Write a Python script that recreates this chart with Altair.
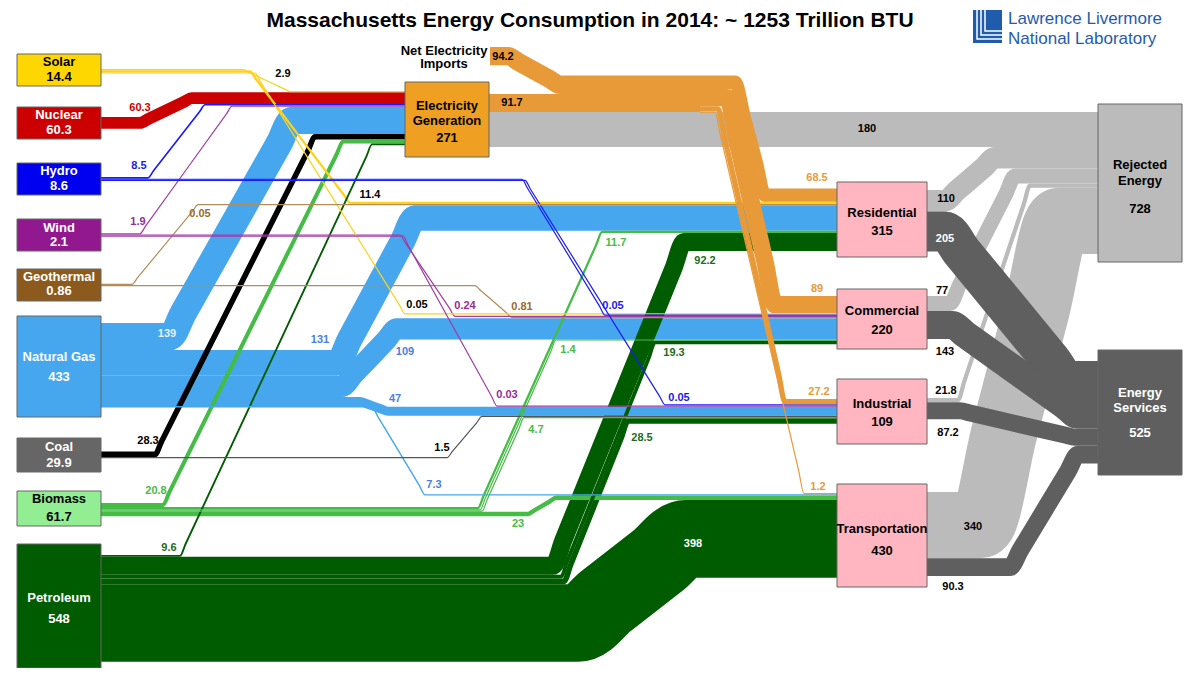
import altair as alt
import pandas as pd

# ---------------- data ----------------
node_ids = ["solar", "nuclear", "hydro", "wind", "geo", "gas", "coal", "bio", "pet",
            "imp", "elec", "res", "com", "ind", "trn", "rej", "srv"]
node_names = ["Solar", "Nuclear", "Hydro", "Wind", "Geothermal", "Natural Gas", "Coal", "Biomass",
              "Petroleum", "Net Electricity Imports", "Electricity Generation", "Residential",
              "Commercial", "Industrial", "Transportation", "Rejected Energy", "Energy Services"]
node_values = [14.4, 60.3, 8.6, 2.1, 0.86, 433, 29.9, 61.7, 548, 94.2, 271, 315, 220, 109, 430, 728, 525]

flow_source = ["solar", "solar", "solar", "nuclear", "hydro", "hydro", "hydro", "wind", "wind", "wind", "geo", "geo",
               "gas", "gas", "gas", "gas", "gas", "coal", "coal", "bio", "bio", "bio", "bio", "bio",
               "pet", "pet", "pet", "pet", "pet", "imp", "elec", "elec", "hub", "hub", "hub", "hub",
               "res", "res", "com", "com", "ind", "ind", "trn", "trn"]
flow_target = ["elec", "res", "com", "elec", "elec", "com", "ind", "elec", "com", "ind", "res", "com",
               "elec", "res", "com", "ind", "trn", "elec", "ind", "elec", "res", "com", "ind", "trn",
               "elec", "res", "com", "ind", "trn", "hub", "hub", "rej", "res", "com", "ind", "trn",
               "rej", "srv", "rej", "srv", "rej", "srv", "rej", "srv"]
flow_value = [2.9, 11.4, 0.05, 60.3, 8.5, 0.05, 0.05, 1.9, 0.24, 0.03, 0.05, 0.81,
              139, 131, 109, 47, 7.3, 28.3, 1.5, 20.8, 11.7, 1.4, 4.7, 23,
              9.6, 92.2, 19.3, 28.5, 398, 94.2, 91.7, 180, 68.5, 89, 27.2, 1.2,
              110, 205, 77, 143, 21.8, 87.2, 340, 90.3]

title_text = "Massachusetts Energy Consumption in 2014: ~ 1253 Trillion BTU"
logo_lines = ["Lawrence Livermore", "National Laboratory"]

# ---------------- layout (positions / styles) ----------------
K = 0.195      # px per trillion BTU
MINW = 1.2     # minimum drawn width

BOX = {
    "solar": (17, 54, 101, 86), "nuclear": (17, 107, 101, 139), "hydro": (17, 163, 101, 195),
    "wind": (17, 219, 101, 251), "geo": (17, 269, 101, 301), "gas": (17, 316, 101, 417),
    "coal": (17, 438, 101, 472), "bio": (17, 491, 101, 526), "pet": (17, 544, 101, 668),
    "elec": (405, 82, 489, 157), "res": (837, 182, 927, 257), "com": (837, 289, 927, 349),
    "ind": (837, 379, 927, 444), "trn": (837, 484, 927, 587), "rej": (1098, 104, 1182, 262),
    "srv": (1098, 350, 1182, 475),
}
BOX_STYLE = {
    "solar": ("#FFD700", "#000000"), "nuclear": ("#CC0000", "#FFFFFF"), "hydro": ("#0000F0", "#FFFFFF"),
    "wind": ("#92188F", "#FFFFFF"), "geo": ("#8C5A1C", "#FFFFFF"), "gas": ("#46A7EE", "#FFFFFF"),
    "coal": ("#666666", "#FFFFFF"), "bio": ("#93EE93", "#000000"), "pet": ("#005C00", "#FFFFFF"),
    "imp": (None, "#000000"), "elec": ("#EF9F22", "#000000"), "res": ("#FFB6C1", "#000000"),
    "com": ("#FFB6C1", "#000000"), "ind": ("#FFB6C1", "#000000"), "trn": ("#FFB6C1", "#000000"),
    "rej": ("#BBBBBB", "#000000"), "srv": ("#5F5F5F", "#FFFFFF"),
}
# (x center, name line ys, value y)
NODE_TEXT = {
    "solar": (59, [62], 77), "nuclear": (59, [115], 130), "hydro": (59, [171], 186),
    "wind": (59, [228], 242), "geo": (59, [277], 291), "gas": (59, [357], 377),
    "coal": (59, [447], 463), "bio": (59, [499], 517), "pet": (59, [598], 619),
    "imp": (444, [51, 64], None), "elec": (447, [106, 121], 138), "res": (882, [213], 231),
    "com": (882, [311], 330), "ind": (882, [404], 422), "trn": (882, [529], 551),
    "rej": (1140, [165, 181], 209), "srv": (1140, [393, 408], 433),
}
OUT_X = {n: 101 for n in ["solar", "nuclear", "hydro", "wind", "geo", "gas", "coal", "bio", "pet"]}
OUT_X.update({"imp": 490, "elec": 488, "hub": 700, "res": 927, "com": 927, "ind": 927, "trn": 927})
IN_X = {"elec": 405, "hub": 700, "res": 837, "com": 837, "ind": 837, "trn": 837, "rej": 1098, "srv": 1098}
OUT_TOP = {"solar": 69, "nuclear": 117.1, "hydro": 177, "wind": 233.2, "geo": 283.8, "gas": 323,
           "coal": 451.6, "bio": 503, "pet": 555, "imp": 47, "elec": 94, "hub": 75.6,
           "res": 190, "com": 296, "ind": 398, "trn": 492}
IN_TOP = {"elec": 91, "hub": 75.6, "res": 188.5, "com": 296, "ind": 399, "trn": 493, "rej": 112, "srv": 361}
SRC_RANK = ["imp", "hub", "solar", "nuclear", "hydro", "wind", "geo", "gas", "coal", "bio", "pet",
            "elec", "res", "com", "ind", "trn"]
TGT_RANK = ["elec", "hub", "res", "com", "ind", "trn", "rej", "srv"]

# per flow: diagonal start/end x, label position
ROUTE = [(243, 290), (250, 350), (255, 405), (140, 192), (148, 205), (522, 605), (525, 665),
         (140, 232), (400, 455), (403, 497), (132, 198), (475, 512),
         (170, 292), (337, 415), (342, 397), (360, 388), (372, 425), (155, 315), (447, 482),
         (163, 343), (478, 602), (480, 556), (482, 524), (528, 556),
         (180, 372), (553, 684), (561, 655), (564, 628), (578, 686), (508, 560), None, None,
         (735, 765), (727, 775), (718, 785), (715, 804),
         (945, 995), (945, 1068), (950, 1015), (952, 1078), (958, 1030), (960, 1075), (980, 1060), (1010, 1078)]
LABEL_POS = [(283, 74), (370, 195), (417, 305), (140, 108), (139, 166), (613, 306), (679, 398),
             (138, 222), (465, 306), (507, 395), (200, 214), (522, 307),
             (167, 334), (320, 340), (405, 352), (395, 399), (434, 485), (148, 441), (442, 448),
             (156, 491), (616, 243), (568, 350), (536, 430), (518, 524),
             (169, 548), (705, 261), (674, 353), (642, 438), (693, 544), (503, 57), (512, 103), (867, 129),
             (817, 178), (817, 289), (819, 392), (818, 487),
             (946, 199), (945, 239), (942, 291), (945, 352), (946, 391), (948, 433), (973, 527), (953, 587)]
SRC_COLOR = {"solar": "#FFD21A", "nuclear": "#CC0000", "hydro": "#1A1AFF", "wind": "#A23BA6",
             "geo": "#B48C58", "gas": "#46A7EE", "coal": "#000000", "bio": "#45BC45", "pet": "#005C00",
             "imp": "#E89A38", "hub": "#E89A38"}
LBL_COLOR = {"solar": "#000000", "nuclear": "#CC0000", "hydro": "#1A1AEE", "wind": "#9A2A9A",
             "geo": "#9B6A2A", "gas": "#4A80E0", "coal": "#000000", "bio": "#45BC45", "pet": "#1E6B1E",
             "imp": "#000000", "hub": "#E89A38"}


def fmt(v):
    return str(int(v)) if float(v) == int(v) else str(v)


def wid(v):
    return max(v * K, MINW)


n = len(flow_value)
colors, lcolors = [], []
for k in range(n):
    s, t = flow_source[k], flow_target[k]
    if s == "elec" and t == "hub":
        c, lc = "#E89A38", "#000000"
    elif t == "rej":
        c, lc = "#BBBBBB", "#000000"
    elif t == "srv":
        c, lc = "#5F5F5F", "#000000"
    elif s == "coal" and t == "ind":
        c, lc = "#555555", "#000000"
    else:
        c, lc = SRC_COLOR[s], LBL_COLOR[s]
    colors.append(c)
    lcolors.append(lc)
lcolors[12] = "#E6F2FF"   # 139 on band
lcolors[28] = "#FFFFFF"   # 398 on band
lcolors[37] = "#FFFFFF"   # 205 on band

# stack positions
ys_out, yt_in = [0.0] * n, [0.0] * n
for node in OUT_TOP:
    idx = sorted([k for k in range(n) if flow_source[k] == node], key=lambda k: TGT_RANK.index(flow_target[k]))
    y = OUT_TOP[node]
    for k in idx:
        w = wid(flow_value[k])
        ys_out[k] = y + w / 2
        y += w
for node in IN_TOP:
    idx = sorted([k for k in range(n) if flow_target[k] == node], key=lambda k: SRC_RANK.index(flow_source[k]))
    y = IN_TOP[node]
    for k in idx:
        w = wid(flow_value[k])
        yt_in[k] = y + w / 2
        y += w


def path(xs, ys, xt, yt, route, w):
    if route is None:
        return [(xs, ys), (xt, ys)]
    xa, xb = route
    m = (yt - ys) / (xb - xa)
    c = min(0.3 * (xb - xa), 5 + 0.3 * w)
    pts = [(xs, ys)]
    if xa > xs + 0.5:
        pts.append((xa, ys))
    pts += [(xa + c, ys + m * c), (xb - c, yt - m * c)]
    if xt > xb + 0.5:
        pts.append((xb, yt))
    pts.append((xt, yt))
    return pts


# z-order: rejected, dark services, then source flows thick->thin, then electricity (orange)
grey_rej = [k for k in range(n) if flow_target[k] == "rej"]
grey_srv = [k for k in range(n) if flow_target[k] == "srv"]
orange = [k for k in range(n) if flow_source[k] in ("imp", "hub") or (flow_source[k] == "elec" and flow_target[k] == "hub")]
others = [k for k in range(n) if k not in grey_rej + grey_srv + orange]
others = sorted(others, key=lambda k: -flow_value[k])
z_order = grey_rej + grey_srv + others + orange

rows = []
for z, k in enumerate(z_order):
    w = wid(flow_value[k])
    pts = path(OUT_X[flow_source[k]], ys_out[k], IN_X[flow_target[k]], yt_in[k], ROUTE[k], w)
    for i, (px, py) in enumerate(pts):
        rows.append({"fid": f"f{z:02d}", "i": i, "x": px, "y": py, "w": w, "col": colors[k]})
flows_df = pd.DataFrame(rows)

flow_lbl = pd.DataFrame({
    "x": [p[0] for p in LABEL_POS], "y": [p[1] for p in LABEL_POS],
    "t": [fmt(v) for v in flow_value], "col": lcolors,
})

box_rows, txt_rows = [], []
for nid, name, val in zip(node_ids, node_names, node_values):
    fill, tc = BOX_STYLE[nid]
    if fill is not None:
        x0, y0, x1, y1 = BOX[nid]
        box_rows.append({"x": x0, "x2": x1, "y": y0, "y2": y1, "fill": fill})
    cx, name_ys, vy = NODE_TEXT[nid]
    parts = [name] if len(name_ys) == 1 else name.rsplit(" ", 1)
    for p, yy in zip(parts, name_ys):
        txt_rows.append({"x": cx, "y": yy, "t": p, "col": tc})
    if vy is not None:
        txt_rows.append({"x": cx, "y": vy, "t": fmt(val), "col": tc})
box_df = pd.DataFrame(box_rows)
node_txt = pd.DataFrame(txt_rows)

# ---------------- chart ----------------
xsc = alt.Scale(domain=[8, 1192], nice=False, zero=False)
ysc = alt.Scale(domain=[8, 668], nice=False, zero=False, reverse=True)
FONT = "Liberation Sans"


def X(f="x"):
    return alt.X(f"{f}:Q", scale=xsc, axis=None)


def Y(f="y"):
    return alt.Y(f"{f}:Q", scale=ysc, axis=None)


flows = alt.Chart(flows_df).mark_line(interpolate="monotone", strokeCap="butt").encode(
    x=X(), y=Y(), detail="fid:N", order=alt.Order("i:Q"),
    color=alt.Color("col:N", scale=None),
    strokeWidth=alt.StrokeWidth("w:Q", scale=None),
)

boxes = alt.Chart(box_df).mark_rect(stroke="#666666", strokeWidth=1).encode(
    x=X(), x2="x2:Q", y=Y(), y2="y2:Q", fill=alt.Fill("fill:N", scale=None)
)

node_labels = alt.Chart(node_txt).mark_text(font=FONT, fontWeight="bold", fontSize=13, baseline="middle").encode(
    x=X(), y=Y(), text="t:N", color=alt.Color("col:N", scale=None)
)

flow_labels = alt.Chart(flow_lbl).mark_text(font=FONT, fontWeight="bold", fontSize=11, baseline="middle").encode(
    x=X(), y=Y(), text="t:N", color=alt.Color("col:N", scale=None)
)

title_df = pd.DataFrame({"x": [590], "y": [21], "t": [title_text]})
title = alt.Chart(title_df).mark_text(font=FONT, fontWeight="bold", fontSize=21, baseline="middle",
                                      color="#000000").encode(x=X(), y=Y(), text="t:N")

logo_df = pd.DataFrame({"x": [1008, 1008], "y": [24, 44], "t": logo_lines})
logo_text = alt.Chart(logo_df).mark_text(font=FONT, fontSize=17, align="left", baseline="alphabetic",
                                         color="#1F5CAB").encode(x=X(), y=Y(), text="t:N")
logo_box = alt.Chart(pd.DataFrame({"x": [973], "x2": [1002], "y": [10], "y2": [43]})).mark_rect(
    color="#1F5CAB").encode(x=X(), x2="x2:Q", y=Y(), y2="y2:Q")
logo_l = pd.DataFrame({
    "g": ["a", "a", "a", "b", "b", "b", "c", "c", "c"],
    "i": [0, 1, 2] * 3,
    "x": [977, 977, 1002, 981, 981, 1002, 985, 985, 1002],
    "y": [10, 39, 39, 10, 35, 35, 10, 31, 31],
})
logo_lines_chart = alt.Chart(logo_l).mark_line(color="#FFFFFF", strokeWidth=1.5).encode(
    x=X(), y=Y(), detail="g:N", order=alt.Order("i:Q")
)

chart = alt.layer(flows, boxes, node_labels, flow_labels, title, logo_box, logo_lines_chart, logo_text).properties(
    width=1184, height=660, padding=0, background="#FFFFFF",
    autosize=alt.AutoSizeParams(type="none"),
).configure_view(stroke=None)

chart.save("out.html", embed_options={"renderer": "svg", "actions": False})
